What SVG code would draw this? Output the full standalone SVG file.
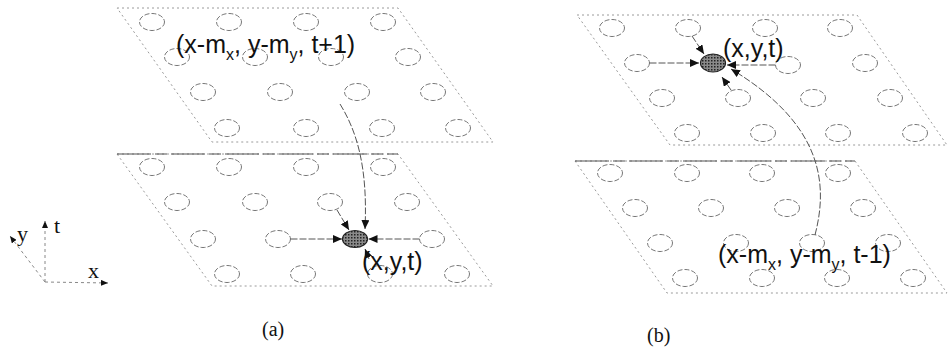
<svg xmlns="http://www.w3.org/2000/svg" width="948" height="349" viewBox="0 0 948 349">
<style>
.plane{fill:none;stroke:#9a9a9a;stroke-width:1;stroke-dasharray:2 3}
.rim{fill:none;stroke:#555;stroke-width:1.2;stroke-dasharray:34 4 12 4}
.cell{fill:none;stroke:#777;stroke-width:1;stroke-dasharray:5 2}
.hit{fill:url(#hatch);stroke:#222;stroke-width:1.2}
.conn{fill:none;stroke:#555;stroke-width:1;stroke-dasharray:7 2;marker-end:url(#ah)}
.axis{fill:none;stroke:#888;stroke-width:1;stroke-dasharray:3 3}
.lbl{font-family:"Liberation Sans",Arial,sans-serif;font-size:25px;fill:#111}
.sub{font-size:16px}
.cap{font-family:"Liberation Serif","Times New Roman",serif;font-size:20px;fill:#111}
.ax{font-family:"Liberation Serif","Times New Roman",serif;font-size:22px;fill:#111}
</style>
<defs>
<marker id="ah" markerUnits="userSpaceOnUse" markerWidth="9" markerHeight="8" refX="9" refY="4" orient="auto"><path d="M0,0 L9,4 L0,8 z" fill="#111"/></marker>
<marker id="axh" markerUnits="userSpaceOnUse" markerWidth="7" markerHeight="6" refX="7" refY="3" orient="auto"><path d="M0,0 L7,3 L0,6 z" fill="#111"/></marker>
<pattern id="hatch" patternUnits="userSpaceOnUse" width="3" height="3"><rect width="3" height="3" fill="#8a8a8a"/><rect width="1.5" height="1.5" fill="#222"/></pattern>
<ellipse id="c" rx="12.5" ry="8.5"/>
</defs>

<g id="plane-a-top">
<polygon class="plane" points="117,8 398,8 493,142 212,142"/>
<g class="cell">
<use href="#c" x="152" y="22"/><use href="#c" x="229" y="22"/><use href="#c" x="306" y="22"/><use href="#c" x="383" y="22"/>
<use href="#c" x="177" y="57"/><use href="#c" x="255" y="57"/><use href="#c" x="331" y="57"/><use href="#c" x="408" y="57"/>
<use href="#c" x="203" y="92"/><use href="#c" x="280" y="92"/><use href="#c" x="357" y="92"/><use href="#c" x="433" y="92"/>
<use href="#c" x="227" y="128"/><use href="#c" x="306" y="128"/><use href="#c" x="382" y="128"/><use href="#c" x="458" y="128"/>
</g>
</g>

<g id="plane-a-bottom">
<polygon class="plane" points="117,154 398,154 493,286 212,286"/>
<line class="rim" x1="117" y1="154" x2="398" y2="154"/>
<g class="cell">
<use href="#c" x="152" y="167"/><use href="#c" x="229" y="167"/><use href="#c" x="306" y="167"/><use href="#c" x="383" y="167"/>
<use href="#c" x="177" y="202"/><use href="#c" x="255" y="202"/><use href="#c" x="330" y="202"/><use href="#c" x="407" y="202"/>
<use href="#c" x="203" y="239"/><use href="#c" x="278" y="239"/><use href="#c" x="432" y="239"/>
<use href="#c" x="227" y="274"/><use href="#c" x="303" y="274"/><use href="#c" x="380" y="274"/><use href="#c" x="457" y="274"/>
</g>
<ellipse id="a-xyt" class="hit" cx="355" cy="239" rx="12.5" ry="8.5"/>
</g>

<g id="plane-b-top">
<polygon class="plane" points="577,15 857,15 947,145 670,145"/>
<g class="cell">
<use href="#c" x="612" y="28"/><use href="#c" x="688" y="28"/><use href="#c" x="765" y="28"/><use href="#c" x="840" y="28"/>
<use href="#c" x="637" y="63"/><use href="#c" x="788" y="65"/><use href="#c" x="865" y="63"/>
<use href="#c" x="662" y="98"/><use href="#c" x="738" y="98"/><use href="#c" x="813" y="98"/><use href="#c" x="890" y="98"/>
<use href="#c" x="687" y="133"/><use href="#c" x="763" y="133"/><use href="#c" x="838" y="133"/><use href="#c" x="915" y="133"/>
</g>
<ellipse id="b-xyt" class="hit" cx="713" cy="63" rx="12.5" ry="9"/>
</g>

<g id="plane-b-bottom">
<polygon class="plane" points="575,161 855,161 947,293 667,293"/>
<line class="rim" x1="575" y1="161" x2="855" y2="161"/>
<g class="cell">
<use href="#c" x="610" y="173"/><use href="#c" x="687" y="173"/><use href="#c" x="762" y="173"/><use href="#c" x="838" y="173"/>
<use href="#c" x="635" y="208"/><use href="#c" x="711" y="208"/><use href="#c" x="787" y="208"/><use href="#c" x="863" y="208"/>
<use href="#c" x="660" y="243"/><use href="#c" x="736" y="243"/><use href="#c" x="812" y="243"/><use href="#c" x="888" y="243"/>
<use href="#c" x="685" y="278"/><use href="#c" x="762" y="278"/><use href="#c" x="837" y="278"/><use href="#c" x="913" y="278"/>
</g>
</g>

<g id="connectors">
<path class="conn" d="M290.5,239 L342,239"/>
<path class="conn" d="M419.5,239 L368.5,239"/>
<path class="conn" d="M337,210 L349,230"/>
<path class="conn" d="M340,104 C356,130 368,165 365,229"/>
<path class="conn" d="M369,259 L365,249"/>
<path class="conn" d="M649.5,63 L699,63"/>
<path class="conn" d="M692,36 L704,54"/>
<path class="conn" d="M775.5,65 L727,65"/>
<path class="conn" d="M815,235 C828,185 824,125 731,69"/>
<path class="conn" d="M731,90 L722,77"/>
</g>

<g id="labels">
<text class="lbl" x="176" y="53">(x-m<tspan class="sub" dy="7">x</tspan><tspan dy="-7">, y-m</tspan><tspan class="sub" dy="7">y</tspan><tspan dy="-7">, t+1)</tspan></text>
<text class="lbl" x="362" y="270">(x,y,t)</text>
<text class="lbl" x="723" y="57">(x,y,t)</text>
<text class="lbl" x="718" y="263">(x-m<tspan class="sub" dy="7">x</tspan><tspan dy="-7">, y-m</tspan><tspan class="sub" dy="7">y</tspan><tspan dy="-7">, t-1)</tspan></text>
</g>

<g id="axes">
<line class="axis" x1="45" y1="282" x2="10" y2="236" marker-end="url(#axh)"/>
<line class="axis" x1="45" y1="282" x2="45" y2="221" marker-end="url(#axh)"/>
<line class="axis" x1="45" y1="282" x2="108" y2="283" marker-end="url(#axh)"/>
<text class="ax" x="17" y="241">y</text>
<text class="ax" x="54" y="233">t</text>
<text class="ax" x="88" y="278">x</text>
</g>

<g id="captions">
<text class="cap" x="262" y="336">(a)</text>
<text class="cap" x="647" y="342">(b)</text>
</g>
</svg>
